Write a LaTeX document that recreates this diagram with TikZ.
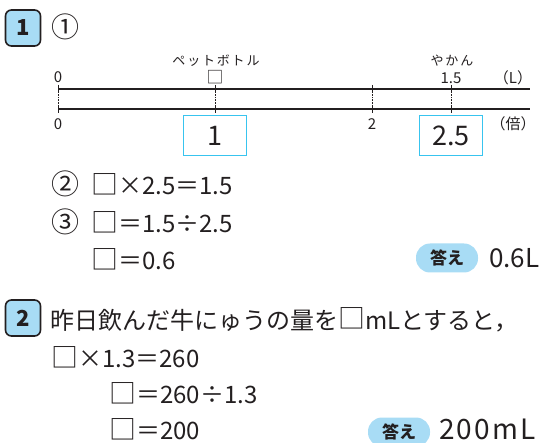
\documentclass[tikz,border=0pt]{standalone}
\usepackage{fontspec}
\setmainfont{Noto Sans CJK JP}
\newfontfamily\jpwide[LetterSpace=14]{Noto Sans CJK JP}
\newfontfamily\jpans[LetterSpace=8]{Noto Sans CJK JP}
\newcommand{\sqb}{\raisebox{0.02em}{\scalebox{1.12}{□}}}
\definecolor{ink}{HTML}{231F20}
\definecolor{badgeblue}{HTML}{A8DCF5}
\definecolor{boxblue}{HTML}{38C4EF}
\tikzset{
  numbadge/.style={draw=ink, line width=1.6pt, fill=badgeblue, rounded corners=6pt, minimum width=35pt, minimum height=36pt, inner sep=0pt, font=\fontsize{22}{22}\selectfont\bfseries, text=ink},
  ansbadge/.style={fill=badgeblue, rounded corners=14pt, minimum width=62pt, minimum height=29pt, inner sep=0pt, font=\fontsize{17}{17}\selectfont\bfseries, text=ink},
  ansbox/.style={draw=boxblue, line width=1pt, minimum width=63pt, minimum height=40pt, inner sep=0pt, font=\fontsize{27}{27}\selectfont, text=ink},
  main/.style={font=\fontsize{24}{24}\selectfont, text=ink, inner sep=0pt},
  circ/.style={font=\fontsize{28}{28}\selectfont, text=ink, inner sep=0pt},
  small/.style={font=\fontsize{15}{15}\selectfont, text=ink, inner sep=0pt},
  tiny/.style={font=\fontsize{13}{13}\selectfont\jpwide, text=ink, inner sep=0pt},
  axis/.style={draw=ink, line width=1.2pt},
  tickline/.style={draw=ink, line width=0.6pt},
  dotline/.style={draw=ink, line width=0.6pt, densely dotted}
}
\begin{document}
\begin{tikzpicture}[x=1pt,y=-1pt]
\useasboundingbox (0,0) rectangle (546,443);
% section 1
\node[numbadge] (b1) at (23,28) {1};
\node[circ] (c1) at (65,27) {①};
\node[tiny] (pet) at (216,61) {ペットボトル};
\node[small] (sq) at (215,77) {\sqb};
\node[tiny] (yakan) at (452,61) {やかん};
\node[small] (v15) at (451,78) {1.5};
\node[small] (L) at (513,78) {（L）};
\node[small] (z1) at (58,77) {0};
\node[small] (z2) at (58,124) {0};
\node[small] (t2) at (372,124) {2};
\node[small] (bai) at (513,124) {（倍）};
\coordinate (a1) at (58,89);
\coordinate (a2) at (530,89);
\coordinate (b1l) at (58,109);
\coordinate (b2l) at (530,109);
\draw[axis] (a1) -- (a2);
\draw[axis] (b1l) -- (b2l);
\foreach \x in {58,215,372,451}{
  \draw[dotline] (\x,89) -- (\x,109);
  \draw[tickline] (\x,85) -- (\x,93);
  \draw[tickline] (\x,105) -- (\x,113);
}
\node[ansbox] (box1) at (215,136) {1};
\node[ansbox] (box2) at (451,136) {2.5};
% ② ③
\node[circ] (c2) at (65,184) {②};
\node[main, anchor=west] (e1) at (91,184) {\sqb×2.5＝1.5};
\node[circ] (c3) at (65,222) {③};
\node[main, anchor=west] (e2) at (91,222) {\sqb＝1.5÷2.5};
\node[main, anchor=west] (e3) at (91,259) {\sqb＝0.6};
\node[ansbadge] (ans1) at (447,258) {答え};
\node[main, anchor=west, font=\fontsize{26}{26}\selectfont] (r1) at (489,258) {0.6L};
% section 2
\node[numbadge] (b2) at (23,318) {2};
\node[main, anchor=west] (q2) at (50,320) {昨日飲んだ牛にゅうの量を\sqb mLとすると，};
\node[main, anchor=west] (f1) at (51,357) {\sqb×1.3＝260};
\node[main, anchor=west] (f2) at (109,393) {\sqb＝260÷1.3};
\node[main, anchor=west] (f3) at (109,429) {\sqb＝200};
\node[ansbadge] (ans2) at (399,432) {答え};
\node[main, anchor=west, font=\fontsize{28}{28}\selectfont\jpans] (r2) at (439,429) {200mL};
\end{tikzpicture}
\end{document}
